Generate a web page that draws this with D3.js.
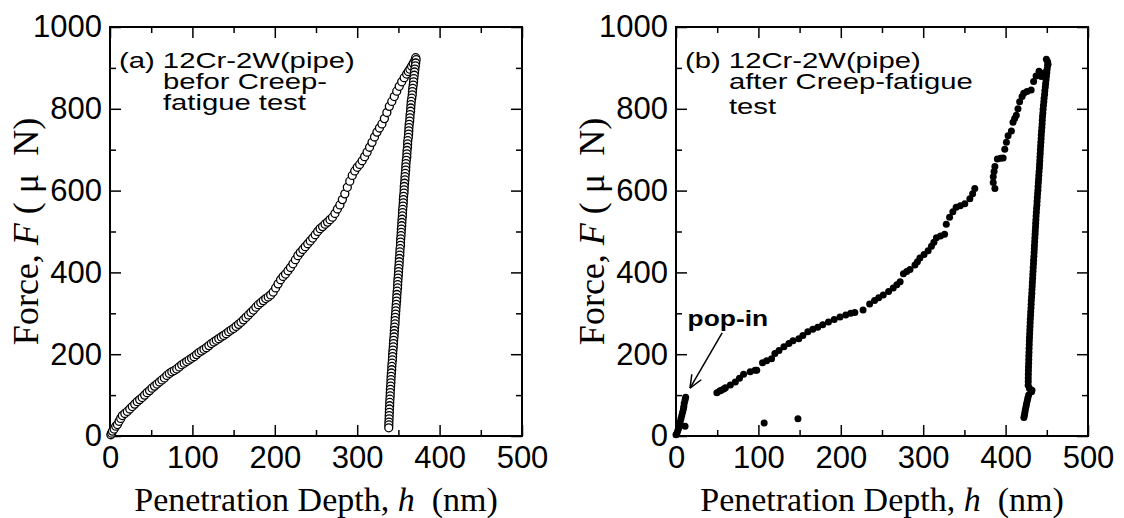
<!DOCTYPE html>
<html>
<head>
<meta charset="utf-8">
<script src="https://cdn.jsdelivr.net/npm/d3@7"></script>
<style>
    body { margin: 0; background: #fff; }
    .tick text { font-family: 'Liberation Sans', Arial, sans-serif; font-size: 31px; fill: #000; }
    .tick line { stroke: #000; stroke-width: 1.5; }
    .axis-title { font-family: 'Liberation Serif', 'Times New Roman', serif; font-size: 34px; fill: #000; white-space: pre; }
    .note { font-family: 'Liberation Sans', Arial, sans-serif; font-size: 22px; fill: #000; }
</style>
</head>
<body>
<svg id="chart" width="1124" height="518"></svg>
<script>
// tick values
const xMajorTicks = [0, 100, 200, 300, 400, 500];
const xMinorTicks = [50, 150, 250, 350, 450];
const yMajorTicks = [0, 200, 400, 600, 800, 1000];
const yMinorTicks = [100, 300, 500, 700, 900];

// (a) before creep-fatigue test: [h (nm), F (uN)]
const aLoading = [
    [1, 3], [2, 7], [3, 12], [5, 17], [7, 24], [9, 28], [11, 36], [13, 43], [15, 50], [18, 55],
    [21, 60], [24, 66], [27, 72], [30, 78], [33, 84], [36, 89], [39, 94], [42, 100], [45, 106], [48, 111],
    [51, 117], [54, 122], [57, 127], [60, 132], [63, 137], [66, 142], [69, 148], [72, 153], [75, 157], [78, 160],
    [81, 164], [84, 169], [87, 174], [90, 178], [93, 182], [96, 186], [99, 190], [102, 194], [105, 199], [108, 204],
    [111, 208], [114, 212], [117, 216], [120, 221], [123, 226], [126, 230], [129, 234], [132, 238], [135, 242], [138, 246],
    [141, 250], [144, 255], [147, 259], [150, 263], [153, 268], [156, 273], [159, 278], [162, 284], [165, 290], [168, 296],
    [171, 302], [174, 308], [177, 315], [180, 321], [183, 326], [186, 331], [189, 336], [192, 340], [195, 345], [198, 352],
    [201, 362], [204, 372], [207, 382], [210, 390], [213, 396], [216, 404], [219, 412], [222, 421], [225, 431], [228, 441],
    [231, 449], [234, 456], [237, 463], [240, 470], [243, 477], [246, 484], [249, 492], [252, 500], [255, 507], [258, 512],
    [261, 518], [264, 523], [267, 529], [270, 535], [273, 544], [276, 555], [279, 565], [282, 578], [285, 592], [288, 608],
    [291, 623], [294, 637], [297, 648], [300, 657], [303, 664], [306, 673], [309, 683], [312, 694], [315, 706], [318, 718],
    [321, 731], [324, 743], [327, 753], [330, 763], [333, 776], [336, 791], [339, 806], [342, 818], [345, 830], [348, 843],
    [351, 855], [354, 866], [357, 876], [360, 885], [362, 891], [364, 897], [366, 904], [368, 911], [370, 918], [371, 925]
];
const aUnloading = [
    [371.5, 920], [371, 912], [370.6, 905], [370, 897], [369.6, 890], [369.2, 882], [368.7, 874], [368.4, 866], [368, 858], [367.4, 850],
    [367, 842], [366.8, 834], [366.2, 826], [365.6, 818], [365.3, 810], [365, 802], [364.8, 794], [364.2, 786], [364, 778], [363.7, 770],
    [363.1, 762], [362.8, 754], [362.6, 746], [362.4, 738], [362, 730], [361.4, 722], [361.2, 714], [361, 706], [360.5, 698], [360.3, 690],
    [360.2, 682], [359.6, 674], [359.2, 666], [359, 658], [358.8, 650], [358.4, 642], [358, 634], [357.9, 626], [357.5, 618], [357.1, 610],
    [357, 602], [356.8, 594], [356.3, 586], [356, 578], [355.9, 570], [355.6, 562], [355.2, 554], [355, 546], [354.8, 538], [354.4, 530],
    [354.2, 522], [354, 514], [353.6, 506], [353.4, 498], [353.2, 490], [352.8, 482], [352.6, 474], [352.5, 466], [352, 458], [351.8, 450],
    [351.7, 442], [351.2, 434], [351, 426], [350.8, 418], [350.4, 410], [350.2, 402], [350, 394], [349.6, 386], [349.3, 378], [349.1, 370],
    [349, 362], [348.5, 354], [348.2, 346], [348, 338], [347.8, 330], [347.4, 322], [347.1, 314], [346.9, 306], [346.6, 298], [346.2, 290],
    [346, 282], [345.9, 274], [345.4, 266], [345.1, 258], [344.9, 250], [344.7, 242], [344.2, 234], [344, 226], [343.8, 218], [343.4, 210],
    [343.1, 202], [342.9, 194], [342.7, 186], [342.3, 178], [342, 170], [341.9, 162], [341.5, 154], [341.2, 146], [341, 138], [340.9, 130],
    [340.6, 122], [340.3, 114], [340.1, 106], [340, 98], [339.7, 90], [339.5, 82], [339.4, 74], [339.1, 66], [339, 58], [338.8, 50],
    [338.7, 42], [338.5, 34], [338.4, 27], [338.3, 20]
];

// (b) after creep-fatigue test: [h (nm), F (uN)]
const bLoading = [
    [0, 3], [1, 6], [2, 12], [3, 18], [4, 26], [5, 34], [6, 42], [7, 50], [8, 58], [9, 66],
    [9.5, 72], [10, 80], [11, 88], [11.7, 95], [11, 24], [107, 32], [148, 42],
    [49.6, 106], [53, 110], [55, 112], [58, 115], [60, 118], [66, 125], [72, 132], [77, 141], [82, 151], [90, 157],
    [96, 161], [98, 161], [105, 179], [110, 184], [116, 189], [120, 202], [125, 209], [131, 218], [137, 226], [142, 233],
    [149, 238], [154, 246], [160, 255], [166, 261], [172, 266], [178, 272], [185, 279], [192, 285], [199, 291], [206, 296],
    [212, 300], [217, 302], [227, 308], [235, 323], [241, 331], [246, 338], [251.5, 345], [258, 353], [263.6, 362], [268, 370],
    [272, 377], [276, 397], [280, 402], [284, 407], [290, 418], [293, 426], [296, 435], [301, 444], [306, 453], [310, 464],
    [313, 474], [316, 485], [321, 489], [326, 493], [328, 518], [332, 535], [336, 548], [340, 559], [345, 563], [350.5, 568],
    [356.6, 580], [360, 592], [362.6, 605],
    [387, 605], [385, 620], [385, 634], [386, 647], [387, 659], [390, 677], [394, 679], [397, 680], [399, 701], [401, 718],
    [403, 734], [407, 746], [409, 767], [411, 776], [413, 784], [415, 800], [417, 817], [420, 830], [422, 838], [426, 842],
    [431, 846], [434, 867], [437, 880], [440.6, 892], [443.4, 879], [447.5, 888], [449.5, 921], [451.5, 909], [451, 915]
];
const bUnloading = [
    [451, 905], [450.4, 897], [450, 889], [449.6, 880], [449.1, 871], [448.6, 862], [448.2, 853], [447.6, 844], [447.3, 835], [446.7, 826],
    [446.4, 817], [445.9, 808], [445.5, 799], [445.2, 790], [444.8, 781], [444.5, 772], [444.3, 763], [444, 754], [443.6, 745], [443.3, 736],
    [443.1, 727], [442.8, 718], [442.5, 709], [442.2, 700], [442, 691], [441.7, 682], [441.5, 673], [441.2, 664], [441, 655], [440.6, 646],
    [440.3, 637], [440, 628], [439.7, 619], [439.4, 610], [439.2, 601], [438.8, 592], [438.5, 583], [438.2, 574], [438, 565], [437.6, 556],
    [437.3, 547], [437, 538], [436.8, 529], [436.5, 520], [436.3, 511], [436, 502], [435.8, 493], [435.5, 484], [435.3, 475], [435, 466],
    [434.8, 457], [434.6, 448], [434.3, 439], [434, 430], [433.8, 421], [433.5, 412], [433.3, 403], [433, 394], [432.8, 385], [432.5, 376],
    [432.3, 367], [432, 358], [431.8, 349], [431.5, 340], [431.2, 331], [431, 322], [430.8, 313], [430.5, 304], [430.3, 295], [430, 286],
    [429.8, 277], [429.6, 268], [429.4, 259], [429.2, 250], [429, 241], [428.8, 232], [428.7, 223], [428.5, 214], [428.4, 205], [428.2, 196],
    [428.1, 187], [428, 178], [427.8, 169], [427.7, 160], [427.6, 151], [427.5, 142], [427.5, 133], [427.4, 124], [429, 116], [432, 112],
    [431.5, 108], [428, 100], [427, 93], [426.3, 86], [425.4, 79], [424.8, 72], [424, 65], [423.4, 58], [422.8, 51], [422.2, 45]
];

const panels = [
    { left: 110, loading: aLoading, unloading: aUnloading, open: true,
      note: ['(a) 12Cr-2W(pipe)', 'befor Creep-', 'fatigue test'], noteGap: [21, 21] },
    { left: 676, loading: bLoading, unloading: bUnloading, open: false,
      note: ['(b) 12Cr-2W(pipe)', 'after Creep-fatigue', 'test'], noteGap: [21, 25] }
];

const svg = d3.select('#chart');
const plotW = 412, plotTop = 27, plotBottom = 436;

panels.forEach((p, i) => drawPanel(p, i));

function drawPanel(p, i) {
    const x = d3.scaleLinear().domain([0, 500]).range([p.left, p.left + plotW]);
    const y = d3.scaleLinear().domain([0, 1000]).range([plotBottom, plotTop]);
    const g = svg.append('g');

    // major / minor ticks on all four sides, pointing inward
    const axes = [
        [d3.axisBottom(x).tickValues(xMajorTicks).tickSize(-11).tickPadding(10).tickFormat(d3.format('d')), `translate(0,${plotBottom})`],
        [d3.axisBottom(x).tickValues(xMinorTicks).tickSize(-6).tickFormat(''), `translate(0,${plotBottom})`],
        [d3.axisTop(x).tickValues(xMajorTicks).tickSize(-11).tickFormat(''), `translate(0,${plotTop})`],
        [d3.axisTop(x).tickValues(xMinorTicks).tickSize(-6).tickFormat(''), `translate(0,${plotTop})`],
        [d3.axisLeft(y).tickValues(yMajorTicks).tickSize(-11).tickPadding(8).tickFormat(d3.format('d')), `translate(${p.left},0)`],
        [d3.axisLeft(y).tickValues(yMinorTicks).tickSize(-6).tickFormat(''), `translate(${p.left},0)`],
        [d3.axisRight(y).tickValues(yMajorTicks).tickSize(-11).tickFormat(''), `translate(${p.left + plotW},0)`],
        [d3.axisRight(y).tickValues(yMinorTicks).tickSize(-6).tickFormat(''), `translate(${p.left + plotW},0)`]
    ];
    axes.forEach(([ax, tr]) => {
        g.append('g').attr('transform', tr).call(ax).call(s => s.select('.domain').remove());
    });

    g.append('rect')
        .attr('x', p.left).attr('y', plotTop)
        .attr('width', plotW).attr('height', plotBottom - plotTop)
        .attr('fill', 'none').attr('stroke', '#000').attr('stroke-width', 2);

    // axis titles
    g.append('text')
        .attr('class', 'axis-title')
        .attr('x', p.left + plotW / 2).attr('y', 511)
        .attr('text-anchor', 'middle')
        .html('Penetration Depth, <tspan font-style="italic">h</tspan>  (nm)');

    g.append('text')
        .attr('class', 'axis-title')
        .style('font-size', '36px')
        .attr('transform', `translate(${p.left - 72},${(plotTop + plotBottom) / 2}) rotate(-90)`)
        .attr('text-anchor', 'middle')
        .html('Force, <tspan font-style="italic">F</tspan> ( \u03bc  N)');

    // note text, one block, stretched horizontally like the original
    const note = g.append('text')
        .attr('class', 'note')
        .attr('transform', `translate(${p.left + 9},68) scale(1.33,1)`);
    note.selectAll('tspan')
        .data(p.note)
        .join('tspan')
        .attr('x', (d, k) => k === 0 ? 0 : 33)
        .attr('dy', (d, k) => k === 0 ? 0 : p.noteGap[k - 1])
        .text(d => d);

    const all = p.loading.concat(p.unloading);
    g.append('g').selectAll('circle')
        .data(all)
        .join('circle')
        .attr('cx', d => x(d[0]))
        .attr('cy', d => y(d[1]))
        .attr('r', p.open ? 4 : 3.5)
        .attr('fill', p.open ? '#fff' : '#000')
        .attr('stroke', '#000')
        .attr('stroke-width', p.open ? 1.3 : 0);

    if (i === 1) {
        // pop-in annotation
        g.append('text')
            .attr('class', 'note')
            .attr('font-weight', 'bold')
            .attr('transform', `translate(${x(14)},${y(268)}) scale(1.2,1)`)
            .text('pop-in');
        const x0 = x(56), y0 = y(252), x1 = x(17), y1 = y(117);
        g.append('line')
            .attr('x1', x0).attr('y1', y0).attr('x2', x1).attr('y2', y1)
            .attr('stroke', '#000').attr('stroke-width', 1.5);
        const ang = Math.atan2(y1 - y0, x1 - x0);
        [0.4, -0.4].forEach(a => {
            g.append('line')
                .attr('x1', x1).attr('y1', y1)
                .attr('x2', x1 - 14 * Math.cos(ang + a))
                .attr('y2', y1 - 14 * Math.sin(ang + a))
                .attr('stroke', '#000').attr('stroke-width', 1.5);
        });
    }
}
</script>
</body>
</html>
